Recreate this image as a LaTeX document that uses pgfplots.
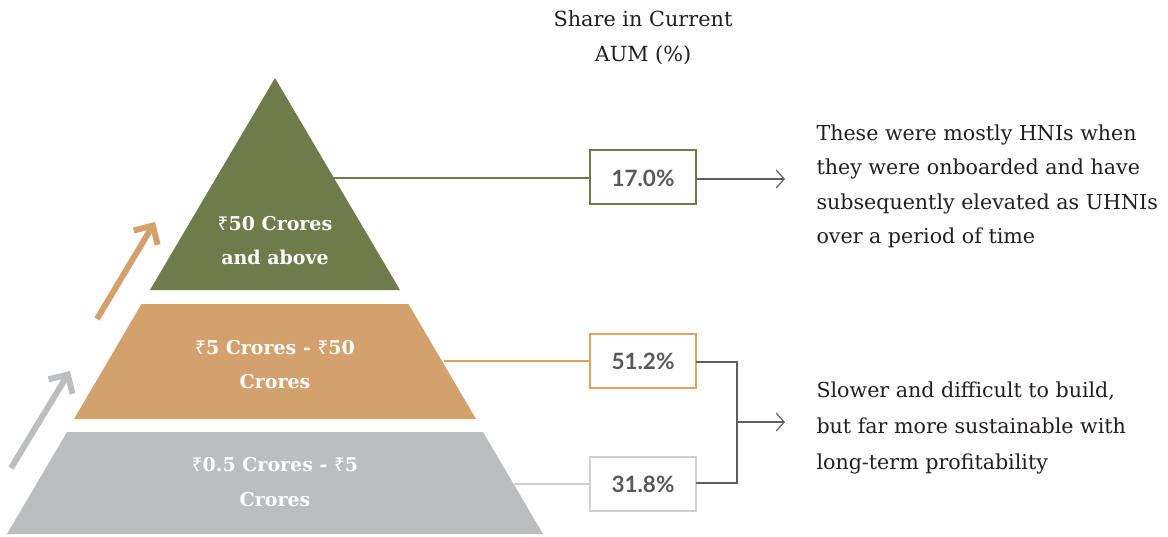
\documentclass[border=0pt]{standalone}
\usepackage{fontspec}
\setmainfont{DejaVu Serif}
\newfontfamily\valfont{Lato}
\newfontfamily\rupeefont{Noto Sans}
\usepackage{pgfplots}
\pgfplotsset{compat=1.18}
\usetikzlibrary{arrows.meta}

\definecolor{olive}{HTML}{6F7B4B}
\definecolor{tan}{HTML}{D3A16D}
\definecolor{greyfill}{HTML}{BCBDBF}
\definecolor{boxtan}{HTML}{E3A160}
\definecolor{boxgrey}{HTML}{CFCFCF}
\definecolor{linkgrey}{HTML}{5E5E5E}
\definecolor{valtext}{HTML}{58595B}
\definecolor{bodytext}{HTML}{231F20}

\newcommand{\rs}{{\rupeefont ₹}}

\begin{document}
\begin{tikzpicture}
\begin{axis}[
    width=1168pt, height=536pt, scale only axis,
    xmin=0, xmax=1168, ymin=0, ymax=536,
    y dir=reverse, hide axis, clip=false,
]
% canvas
\addplot[draw=none, fill=white] coordinates {(0,0) (1168,0) (1168,536) (0,536)} -- cycle;

% pyramid tiers
\addplot[draw=none, fill=olive] coordinates {(275,78) (400,290) (150,290)} -- cycle;
\addplot[draw=none, fill=tan] coordinates {(141.5,304) (408.5,304) (476,419) (74,419)} -- cycle;
\addplot[draw=none, fill=greyfill] coordinates {(67,432) (483,432) (543,534) (7,534)} -- cycle;

% growth arrows
\addplot[draw=greyfill, line width=6pt, -{Straight Barb[length=14pt, width=28pt]}] coordinates {(11,468) (70,371)};
\addplot[draw=tan, line width=6pt, -{Straight Barb[length=14pt, width=28pt]}] coordinates {(97,319) (155,222)};

% connectors to boxes
\addplot[draw=olive, line width=1.2pt] coordinates {(333,178) (590,178)};
\addplot[draw=boxtan, line width=1.2pt] coordinates {(444,361) (590,361)};
\addplot[draw=boxgrey, line width=1.2pt] coordinates {(514,484) (590,484)};

% value boxes
\addplot[draw=olive, line width=1.3pt, fill=white] coordinates {(590,150) (696,150) (696,204) (590,204)} -- cycle;
\addplot[draw=boxtan, line width=1.3pt, fill=white] coordinates {(590,334) (696,334) (696,388) (590,388)} -- cycle;
\addplot[draw=boxgrey, line width=1.3pt, fill=white] coordinates {(590,457) (696,457) (696,511) (590,511)} -- cycle;

% right-hand arrows and bracket
\addplot[draw=linkgrey, line width=1.2pt, -{Straight Barb[length=8pt, width=18pt]}] coordinates {(696,179) (785,179)};
\addplot[draw=linkgrey, line width=1.2pt] coordinates {(696,362) (737,362) (737,483) (696,483)};
\addplot[draw=linkgrey, line width=1.2pt, -{Straight Barb[length=8pt, width=18pt]}] coordinates {(737,422) (785,422)};

% values
\node[font=\valfont\bfseries\fontsize{22.5}{26}\selectfont, text=valtext] at (axis cs:643,178) {17.0\%};
\node[font=\valfont\bfseries\fontsize{22.5}{26}\selectfont, text=valtext] at (axis cs:643,361) {51.2\%};
\node[font=\valfont\bfseries\fontsize{22.5}{26}\selectfont, text=valtext] at (axis cs:643,484) {31.8\%};

% header
\node[anchor=base, font=\fontsize{20.8}{24}\selectfont, text=bodytext] at (axis cs:643,26) {Share in Current};
\node[anchor=base, font=\fontsize{20.8}{24}\selectfont, text=bodytext] at (axis cs:643,61) {AUM (\%)};

% tier labels
\node[anchor=base, font=\bfseries\fontsize{19}{24}\selectfont, text=white] at (axis cs:275,230) {\rs50 Crores};
\node[anchor=base, font=\bfseries\fontsize{19}{24}\selectfont, text=white] at (axis cs:275,264) {and above};
\node[anchor=base, font=\bfseries\fontsize{19}{24}\selectfont, text=white] at (axis cs:275,354) {\rs5 Crores - \rs50};
\node[anchor=base, font=\bfseries\fontsize{19}{24}\selectfont, text=white] at (axis cs:275,388) {Crores};
\node[anchor=base, font=\bfseries\fontsize{19}{24}\selectfont, text=white] at (axis cs:275,471) {\rs0.5 Crores - \rs5};
\node[anchor=base, font=\bfseries\fontsize{19}{24}\selectfont, text=white] at (axis cs:275,506) {Crores};

% commentary
\node[anchor=base west, font=\fontsize{20.6}{24}\selectfont, text=bodytext] at (axis cs:813,140) {These were mostly HNIs when};
\node[anchor=base west, font=\fontsize{20.6}{24}\selectfont, text=bodytext] at (axis cs:813,174) {they were onboarded and have};
\node[anchor=base west, font=\fontsize{20.6}{24}\selectfont, text=bodytext] at (axis cs:813,209) {subsequently elevated as UHNIs};
\node[anchor=base west, font=\fontsize{20.6}{24}\selectfont, text=bodytext] at (axis cs:813,243) {over a period of time};
\node[anchor=base west, font=\fontsize{20.6}{24}\selectfont, text=bodytext] at (axis cs:813,397) {Slower and difficult to build,};
\node[anchor=base west, font=\fontsize{20.6}{24}\selectfont, text=bodytext] at (axis cs:813,433) {but far more sustainable with};
\node[anchor=base west, font=\fontsize{20.6}{24}\selectfont, text=bodytext] at (axis cs:813,469) {long-term profitability};
\end{axis}
\end{tikzpicture}
\end{document}
